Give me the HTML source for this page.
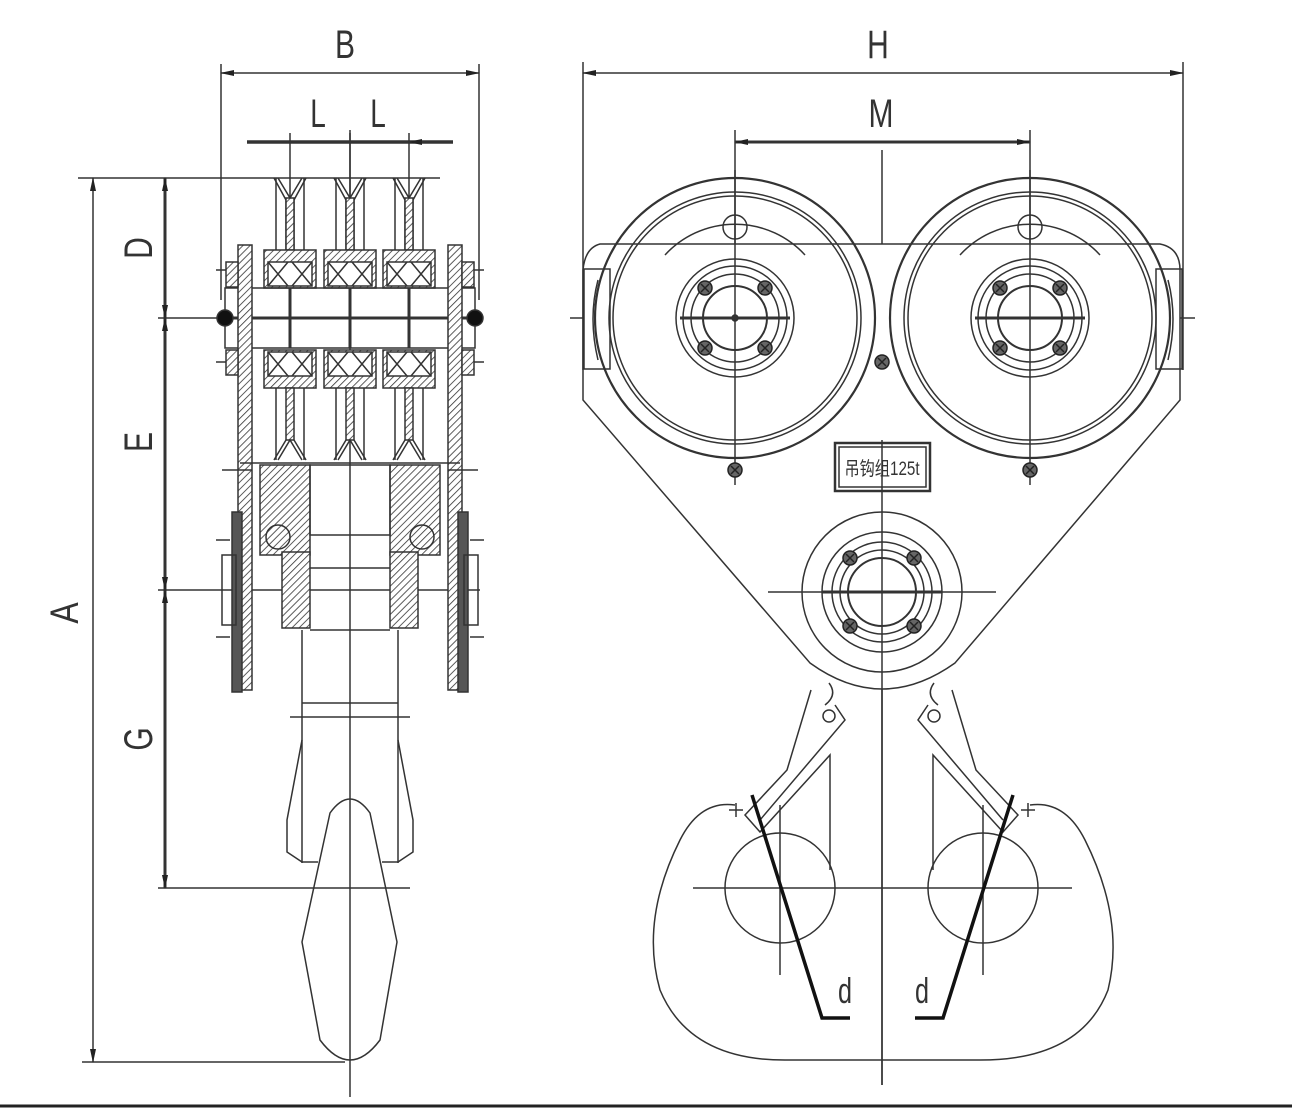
<!DOCTYPE html>
<html><head><meta charset="utf-8"><style>
html,body{margin:0;padding:0;background:#fff}
svg{display:block}
.t{font-family:"Liberation Sans",sans-serif;font-weight:normal;fill:#333}
</style></head><body>
<svg width="1292" height="1112" viewBox="0 0 1292 1112" xmlns="http://www.w3.org/2000/svg">
<defs>
<pattern id="h" width="5" height="5" patternUnits="userSpaceOnUse" patternTransform="rotate(45)"><rect width="5" height="5" fill="#fff"/><line x1="0" y1="0" x2="0" y2="5" stroke="#333" stroke-width="1.6"/></pattern>
<marker id="a" markerWidth="14" markerHeight="8" refX="13" refY="4" orient="auto" markerUnits="userSpaceOnUse"><path d="M0,1 L14,4 L0,7 Z" fill="#222"/></marker>
<marker id="s" markerWidth="14" markerHeight="8" refX="1" refY="4" orient="auto" markerUnits="userSpaceOnUse"><path d="M14,1 L0,4 L14,7 Z" fill="#222"/></marker>
<g id="bolt"><circle r="7" fill="#666" stroke="#222" stroke-width="1.5"/><path d="M-4,-4 L4,4 M4,-4 L-4,4" stroke="#222"/></g>
</defs>
<rect width="1292" height="1112" fill="#fff"/>
<g stroke="#333" stroke-width="1.5" fill="none">
<!-- ========== LEFT DIMENSIONS ========== -->
<line x1="221" y1="64" x2="221" y2="300"/><line x1="479" y1="64" x2="479" y2="300"/>
<line x1="221" y1="73" x2="479" y2="73" marker-start="url(#s)" marker-end="url(#a)"/>
<line x1="247" y1="142" x2="453" y2="142" stroke-width="3.5"/>
<path d="M268,142 l22,0 M328,142 l22,0 M372,142 l-22,0 M431,142 l-22,0" marker-end="url(#a)" stroke-width="2"/>
<line x1="290" y1="133" x2="290" y2="250"/><line x1="350" y1="133" x2="350" y2="250"/><line x1="409" y1="133" x2="409" y2="250"/>
<line x1="78" y1="178" x2="440" y2="178"/>
<line x1="158" y1="318" x2="480" y2="318"/>
<line x1="158" y1="590" x2="480" y2="590"/>
<line x1="158" y1="888" x2="410" y2="888"/>
<line x1="82" y1="1062" x2="345" y2="1062"/>
<line x1="93" y1="178" x2="93" y2="1062" marker-start="url(#s)" marker-end="url(#a)"/>
<line x1="165" y1="178" x2="165" y2="318" stroke-width="3" marker-start="url(#s)" marker-end="url(#a)"/>
<line x1="165" y1="318" x2="165" y2="590" stroke-width="3" marker-start="url(#s)" marker-end="url(#a)"/>
<line x1="165" y1="590" x2="165" y2="888" stroke-width="3" marker-start="url(#s)" marker-end="url(#a)"/>
<line x1="350" y1="130" x2="350" y2="1097"/>
<!-- sheaves -->
<g id="sh">
<path d="M274,178 L286,200 L286,250 M306,178 L294,200 L294,250 M278,178 L290,198 L302,178"/>
<rect x="286" y="198" width="8" height="52" fill="url(#h)"/>
<line x1="276" y1="178" x2="276" y2="250"/><line x1="304" y1="178" x2="304" y2="250"/>
<rect x="264" y="250" width="52" height="38" fill="url(#h)"/>
<rect x="268" y="262" width="44" height="24" fill="#fff"/>
<path d="M268,262 l20,24 M288,262 l-20,24 M292,262 l20,24 M312,262 l-20,24"/>
<rect x="264" y="350" width="52" height="38" fill="url(#h)"/>
<rect x="268" y="352" width="44" height="24" fill="#fff"/>
<path d="M268,352 l20,24 M288,352 l-20,24 M292,352 l20,24 M312,352 l-20,24"/>
<rect x="286" y="388" width="8" height="52" fill="url(#h)"/>
<path d="M274,460 L286,440 M306,460 L294,440 M278,460 L290,440 L302,460"/>
<line x1="276" y1="388" x2="276" y2="460"/><line x1="304" y1="388" x2="304" y2="460"/>
</g>
<use href="#sh" x="60"/><use href="#sh" x="119"/>
<!-- axle -->
<rect x="225" y="288" width="250" height="60"/>
<line x1="220" y1="318" x2="480" y2="318" stroke-width="3"/>
<line x1="290" y1="288" x2="290" y2="348" stroke-width="3"/><line x1="350" y1="288" x2="350" y2="348" stroke-width="3"/><line x1="409" y1="288" x2="409" y2="348" stroke-width="3"/>
<circle cx="225" cy="318" r="8" fill="#111"/><circle cx="475" cy="318" r="8" fill="#111"/>
<!-- side plates -->
<rect x="238" y="245" width="14" height="445" fill="url(#h)"/>
<rect x="448" y="245" width="14" height="445" fill="url(#h)"/>
<rect x="226" y="262" width="12" height="25" fill="url(#h)"/><rect x="462" y="262" width="12" height="25" fill="url(#h)"/>
<rect x="226" y="350" width="12" height="25" fill="url(#h)"/><rect x="462" y="350" width="12" height="25" fill="url(#h)"/>
<path d="M216,270 h10 M216,362 h10 M474,270 h10 M474,362 h10 M216,540 h14 M216,637 h14 M470,540 h14 M470,637 h14 M222,470 h30 M448,470 h30"/>
<rect x="232" y="512" width="10" height="180" fill="#555"/><rect x="458" y="512" width="10" height="180" fill="#555"/>
<rect x="222" y="555" width="14" height="70"/><rect x="464" y="555" width="14" height="70"/>
<!-- crosshead -->
<line x1="240" y1="463" x2="460" y2="463"/>
<rect x="260" y="465" width="50" height="90" fill="url(#h)"/>
<rect x="390" y="465" width="50" height="90" fill="url(#h)"/>
<rect x="310" y="465" width="80" height="70"/>
<circle cx="278" cy="537" r="12"/><circle cx="422" cy="537" r="12"/>
<rect x="282" y="552" width="28" height="76" fill="url(#h)"/>
<rect x="390" y="552" width="28" height="76" fill="url(#h)"/>
<line x1="310" y1="568" x2="390" y2="568"/><line x1="310" y1="630" x2="390" y2="630"/>
<!-- hook shank -->
<path d="M302,630 V863 M398,630 V863 M302,703 H398"/>
<line x1="290" y1="717" x2="410" y2="717"/>
<path d="M302,740 L287,820 L287,852 L302,862 H318 M398,740 L413,820 L413,852 L398,862 H382"/>
<path d="M302,942 L330,813 Q350,785 370,813 L397,942 L380,1040 Q350,1080 320,1040 Z"/>
<!-- ========== RIGHT DIMENSIONS ========== -->
<line x1="583" y1="62" x2="583" y2="370"/><line x1="1183" y1="62" x2="1183" y2="370"/>
<line x1="583" y1="73" x2="1183" y2="73" marker-start="url(#s)" marker-end="url(#a)"/>
<line x1="735" y1="142" x2="1030" y2="142" stroke-width="3" marker-start="url(#s)" marker-end="url(#a)"/>
<line x1="735" y1="130" x2="735" y2="485"/><line x1="1030" y1="130" x2="1030" y2="485"/>
<line x1="882" y1="150" x2="882" y2="1085"/>
<line x1="570" y1="318" x2="1195" y2="318"/>
<!-- plate -->
<path d="M600,244 H1160 Q1180,248 1180,270 V400 L955,663 Q882,715 810,663 L583,400 V270 Q585,248 600,244 Z" fill="#fff"/>
<rect x="584" y="269" width="26" height="100"/><rect x="1156" y="269" width="26" height="100"/>
<path d="M598,280 Q588,318 598,360 M1168,280 Q1178,318 1168,360"/>
<!-- wheels -->
<g id="wh">
<circle cx="735" cy="318" r="140" stroke-width="2.2"/>
<circle cx="735" cy="318" r="126"/><circle cx="735" cy="318" r="122"/>
<path d="M665,255 A95,95 0 0 1 805,255"/>
<circle cx="735" cy="227" r="12"/>
<circle cx="735" cy="318" r="59"/><circle cx="735" cy="318" r="52"/><circle cx="735" cy="318" r="44"/><circle cx="735" cy="318" r="32" stroke-width="2"/>
<line x1="680" y1="318" x2="790" y2="318" stroke-width="3"/>
<line x1="735" y1="170" x2="735" y2="485"/>
<use href="#bolt" x="705" y="288"/><use href="#bolt" x="765" y="288"/><use href="#bolt" x="705" y="348"/><use href="#bolt" x="765" y="348"/>
<use href="#bolt" x="735" y="470"/>
</g>
<use href="#wh" x="295"/>
<circle cx="735" cy="318" r="3" fill="#333"/>
<use href="#bolt" x="882" y="362"/>
<!-- label box -->
<rect x="835" y="443" width="95" height="48" stroke-width="2.5" fill="#fff"/>
<rect x="839" y="447" width="87" height="40"/>
<!-- center hub -->
<circle cx="882" cy="592" r="80" fill="#fff"/>
<circle cx="882" cy="592" r="60"/><circle cx="882" cy="592" r="50"/><circle cx="882" cy="592" r="42"/><circle cx="882" cy="592" r="34" stroke-width="2"/>
<line x1="768" y1="592" x2="996" y2="592"/>
<line x1="822" y1="592" x2="942" y2="592" stroke-width="3"/>
<line x1="882" y1="440" x2="882" y2="1085"/>
<use href="#bolt" x="850" y="558"/><use href="#bolt" x="914" y="558"/><use href="#bolt" x="850" y="626"/><use href="#bolt" x="914" y="626"/>
<!-- hook -->
<path d="M735,805 Q700,800 680,840 Q640,920 660,990 Q690,1062 790,1060 H975 Q1080,1062 1108,990 Q1125,920 1085,840 Q1065,800 1030,805"/>
<circle cx="780" cy="888" r="55"/><circle cx="983" cy="888" r="55"/>
<line x1="693" y1="888" x2="1072" y2="888"/>
<line x1="780" y1="805" x2="780" y2="975"/><line x1="983" y1="805" x2="983" y2="975"/>
<path d="M829,683 Q838,695 825,705 M934,683 Q925,695 938,705"/>
<path d="M811,690 L787,770 L745,815 L760,832 L830,755 V870 M835,705 L845,720 L760,820"/>
<path d="M952,690 L976,770 L1018,815 L1003,832 L933,755 V870 M928,705 L918,720 L1003,820"/>
<circle cx="829" cy="716" r="6"/><circle cx="934" cy="716" r="6"/>
<path d="M729,810 h14 M736,803 v14 M1021,810 h14 M1028,803 v14"/>
<polyline points="752,795 822,1018 850,1018" stroke="#111" stroke-width="3.5"/>
<polyline points="1013,795 943,1018 915,1018" stroke="#111" stroke-width="3.5"/>
</g>
<!-- bottom border -->
<line x1="0" y1="1106" x2="1292" y2="1106" stroke="#222" stroke-width="3"/>
<!-- text -->
<g class="t">
<text x="345" y="58" font-size="40" text-anchor="middle" transform="translate(345 0) scale(0.75 1) translate(-345 0)">B</text>
<text x="318" y="127" font-size="40" text-anchor="middle" transform="translate(318 0) scale(0.7 1) translate(-318 0)">L</text>
<text x="378" y="127" font-size="40" text-anchor="middle" transform="translate(378 0) scale(0.7 1) translate(-378 0)">L</text>
<text x="878" y="58" font-size="40" text-anchor="middle" transform="translate(878 0) scale(0.75 1) translate(-878 0)">H</text>
<text x="881" y="127" font-size="40" text-anchor="middle" transform="translate(881 0) scale(0.75 1) translate(-881 0)">M</text>
<text font-size="40" text-anchor="middle" transform="translate(78 613) rotate(-90) scale(0.8 1)">A</text>
<text font-size="40" text-anchor="middle" transform="translate(152 248) rotate(-90) scale(0.75 1)">D</text>
<text font-size="40" text-anchor="middle" transform="translate(152 442) rotate(-90) scale(0.75 1)">E</text>
<text font-size="40" text-anchor="middle" transform="translate(152 739) rotate(-90) scale(0.75 1)">G</text>
<text x="845" y="1003" font-size="36" text-anchor="middle" transform="translate(845 0) scale(0.7 1) translate(-845 0)">d</text>
<text x="922" y="1003" font-size="36" text-anchor="middle" transform="translate(922 0) scale(0.7 1) translate(-922 0)">d</text>
<text x="882" y="475" font-size="19" text-anchor="middle" font-family="'Liberation Sans','Noto Sans CJK SC',sans-serif" transform="translate(882 0) scale(0.8 1) translate(-882 0)">吊钩组125t</text>
</g>
</svg>
</body></html>
